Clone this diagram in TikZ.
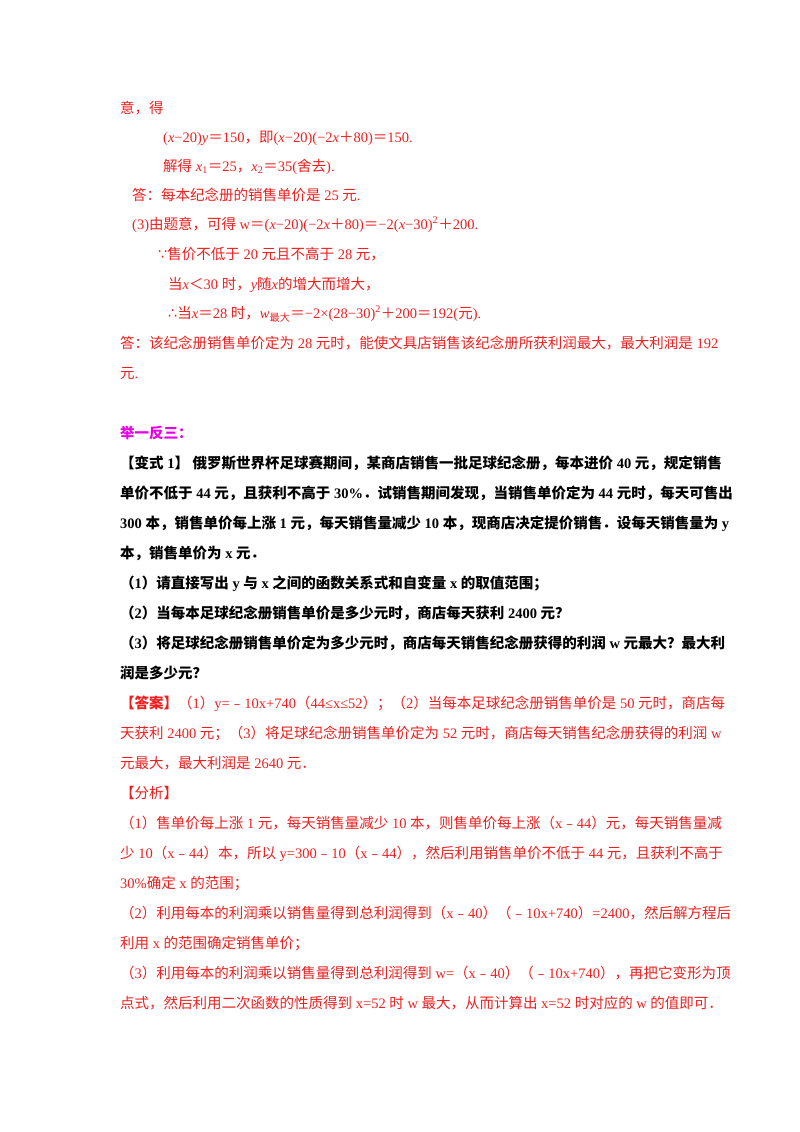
\documentclass[tikz,border=0pt]{standalone}
\usepackage{fontspec}
\setmainfont{Liberation Serif}
\newfontfamily\cjkf{Noto Sans CJK SC}
\newfontfamily\djv{DejaVu Sans}
\XeTeXinterchartokenstate=1
\newXeTeXintercharclass\cjkclass
\def\setcls#1#2{\count255=#1 \loop\XeTeXcharclass\count255=\cjkclass\ifnum\count255<#2 \advance\count255 by 1 \repeat}
\setcls{"4E00}{"9FFF}
\setcls{"3000}{"303F}
\setcls{"FF00}{"FFEF}
\setcls{"FE30}{"FE6F}
\XeTeXinterchartoks 0 \cjkclass = {\cjkf}
\XeTeXinterchartoks 4095 \cjkclass = {\cjkf}
\XeTeXinterchartoks \cjkclass 0 = {\rmfamily}
\XeTeXinterchartoks \cjkclass 4095 = {\rmfamily}
\definecolor{ared}{RGB}{240,30,30}
\definecolor{amag}{RGB}{230,0,230}
\tikzset{ln/.style={anchor=base west,inner sep=0pt,font=\fontsize{14.5}{16}\selectfont}}
\begin{document}
\begin{tikzpicture}[x=1pt,y=1pt]
\useasboundingbox (0,0) rectangle (800,-1132);
\begin{scope}[every node/.style={ln,text=ared}]
\node (a1) at (120,-113) {意，得};
\node (a2) at (163,-142) {(\textit{x}−20)\textit{y}＝150，即(\textit{x}−20)(−2\textit{x}＋80)＝150.};
\node (a3) at (163,-171) {解得 \textit{x}\textsubscript{1}＝25，\textit{x}\textsubscript{2}＝35(舍去).};
\node (a4) at (132,-200) {答：每本纪念册的销售单价是 25 元.};
\node (a5) at (132,-229) {(3)由题意，可得 w＝(\textit{x}−20)(−2\textit{x}＋80)＝−2(\textit{x}−30)\textsuperscript{2}＋200.};
\node (a6) at (158,-259) {{\djv ∵}售价不低于 20 元且不高于 28 元，};
\node (a7) at (168,-289) {当\textit{x}＜30 时，\textit{y}随\textit{x}的增大而增大，};
\node (a8) at (168,-318) {{\djv ∴}当\textit{x}＝28 时，\textit{w}\textsubscript{最大}＝−2×(28−30)\textsuperscript{2}＋200＝192(元).};
\node (a9) at (120,-348) {答：该纪念册销售单价定为 28 元时，能使文具店销售该纪念册所获利润最大，最大利润是 192};
\node (a10) at (120,-378) {元.};
\end{scope}
\node[ln,text=amag,font=\fontsize{14.5}{16}\selectfont\bfseries] (h) at (120,-438) {举一反三：};
\begin{scope}[every node/.style={ln,font=\fontsize{14.5}{16}\selectfont\bfseries}]
\node (b1) at (120,-468) {【变式 1】 俄罗斯世界杯足球赛期间，某商店销售一批足球纪念册，每本进价 40 元，规定销售};
\node (b2) at (120,-498) {单价不低于 44 元，且获利不高于 30\%．试销售期间发现，当销售单价定为 44 元时，每天可售出};
\node (b3) at (120,-528) {300 本，销售单价每上涨 1 元，每天销售量减少 10 本，现商店决定提价销售．设每天销售量为 y};
\node (b4) at (120,-558) {本，销售单价为 x 元．};
\node (b5) at (120,-588) {（1）请直接写出 y 与 x 之间的函数关系式和自变量 x 的取值范围；};
\node (b6) at (120,-618) {（2）当每本足球纪念册销售单价是多少元时，商店每天获利 2400 元？};
\node (b7) at (120,-648) {（3）将足球纪念册销售单价定为多少元时，商店每天销售纪念册获得的利润 w 元最大？最大利};
\node (b8) at (120,-678) {润是多少元？};
\end{scope}
\begin{scope}[every node/.style={ln,text=ared}]
\node (c1) at (120,-708) {{\bfseries 【答案】}（1）y=﹣10x+740（44≤x≤52）；（2）当每本足球纪念册销售单价是 50 元时，商店每};
\node (c2) at (120,-738) {天获利 2400 元；（3）将足球纪念册销售单价定为 52 元时，商店每天销售纪念册获得的利润 w};
\node (c3) at (120,-768) {元最大，最大利润是 2640 元．};
\node (c4) at (120,-798) {【分析】};
\node (c5) at (120,-828) {（1）售单价每上涨 1 元，每天销售量减少 10 本，则售单价每上涨（x﹣44）元，每天销售量减};
\node (c6) at (120,-858) {少 10（x﹣44）本，所以 y=300﹣10（x﹣44），然后利用销售单价不低于 44 元，且获利不高于};
\node (c7) at (120,-888) {30\%确定 x 的范围；};
\node (c8) at (120,-918) {（2）利用每本的利润乘以销售量得到总利润得到（x﹣40）（﹣10x+740）=2400，然后解方程后};
\node (c9) at (120,-948) {利用 x 的范围确定销售单价；};
\node (c10) at (120,-978) {（3）利用每本的利润乘以销售量得到总利润得到 w=（x﹣40）（﹣10x+740），再把它变形为顶};
\node (c11) at (120,-1008) {点式，然后利用二次函数的性质得到 x=52 时 w 最大，从而计算出 x=52 时对应的 w 的值即可．};
\end{scope}
\end{tikzpicture}
\end{document}
